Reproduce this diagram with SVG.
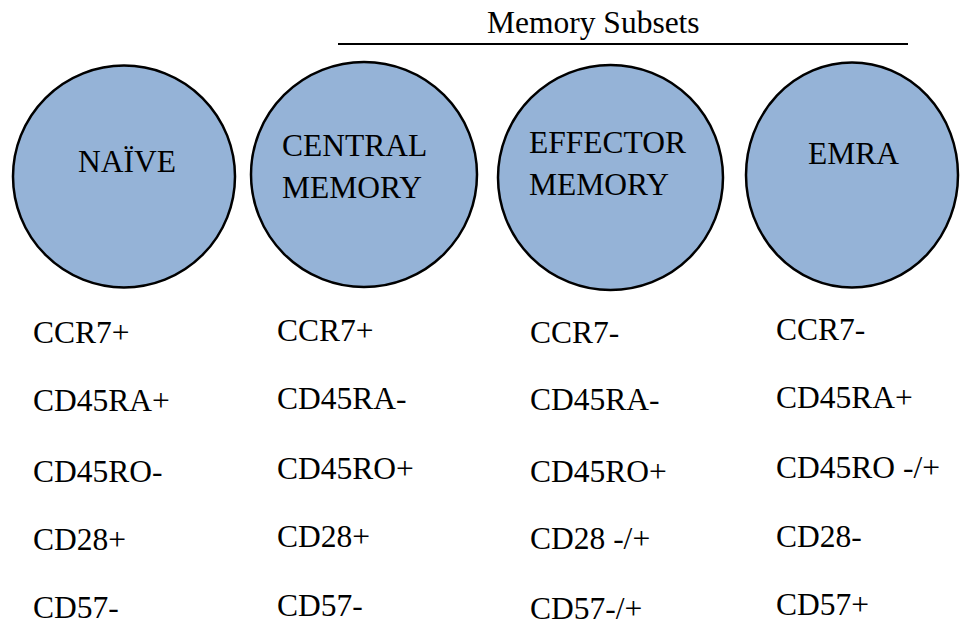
<svg xmlns="http://www.w3.org/2000/svg" width="960" height="626" viewBox="0 0 960 626" font-family="Liberation Serif, Times New Roman, serif">
<style>
.node{fill:#95b3d7;stroke:#000;stroke-width:2.5}
text{font-size:31.5px;fill:#000}
</style>
<rect width="960" height="626" fill="#fff"/>
<g id="header">
<text x="487" y="33">Memory Subsets</text>
<line x1="338" y1="44" x2="908" y2="44" stroke="#000" stroke-width="2"/>
</g>
<g id="connectors"></g>
<g id="naive">
<ellipse class="node" cx="124" cy="176.5" rx="111" ry="111"/>
<text x="78" y="172">NAÏVE</text>
</g>
<g id="central">
<ellipse class="node" cx="364" cy="174.5" rx="113" ry="112.5"/>
<text x="282" y="156">CENTRAL</text>
<text x="282" y="198">MEMORY</text>
</g>
<g id="effector">
<ellipse class="node" cx="610.5" cy="177.5" rx="112.5" ry="112.5"/>
<text x="529" y="153">EFFECTOR</text>
<text x="529" y="195">MEMORY</text>
</g>
<g id="emra">
<ellipse class="node" cx="852" cy="175" rx="106" ry="112.5"/>
<text x="808" y="164">EMRA</text>
</g>
<g id="naive-markers">
<text x="33" y="343">CCR7+</text>
<text x="33" y="411">CD45RA+</text>
<text x="33" y="482">CD45RO-</text>
<text x="33" y="550">CD28+</text>
<text x="33" y="618">CD57-</text>
</g>
<g id="central-markers">
<text x="277" y="341">CCR7+</text>
<text x="277" y="409">CD45RA-</text>
<text x="277" y="479">CD45RO+</text>
<text x="277" y="547">CD28+</text>
<text x="277" y="616">CD57-</text>
</g>
<g id="effector-markers">
<text x="530" y="343">CCR7-</text>
<text x="530" y="410">CD45RA-</text>
<text x="530" y="482">CD45RO+</text>
<text x="530" y="549">CD28 -/+</text>
<text x="530" y="619">CD57-/+</text>
</g>
<g id="emra-markers">
<text x="776" y="340">CCR7-</text>
<text x="776" y="408">CD45RA+</text>
<text x="776" y="478">CD45RO -/+</text>
<text x="776" y="547">CD28-</text>
<text x="776" y="615">CD57+</text>
</g>
</svg>
